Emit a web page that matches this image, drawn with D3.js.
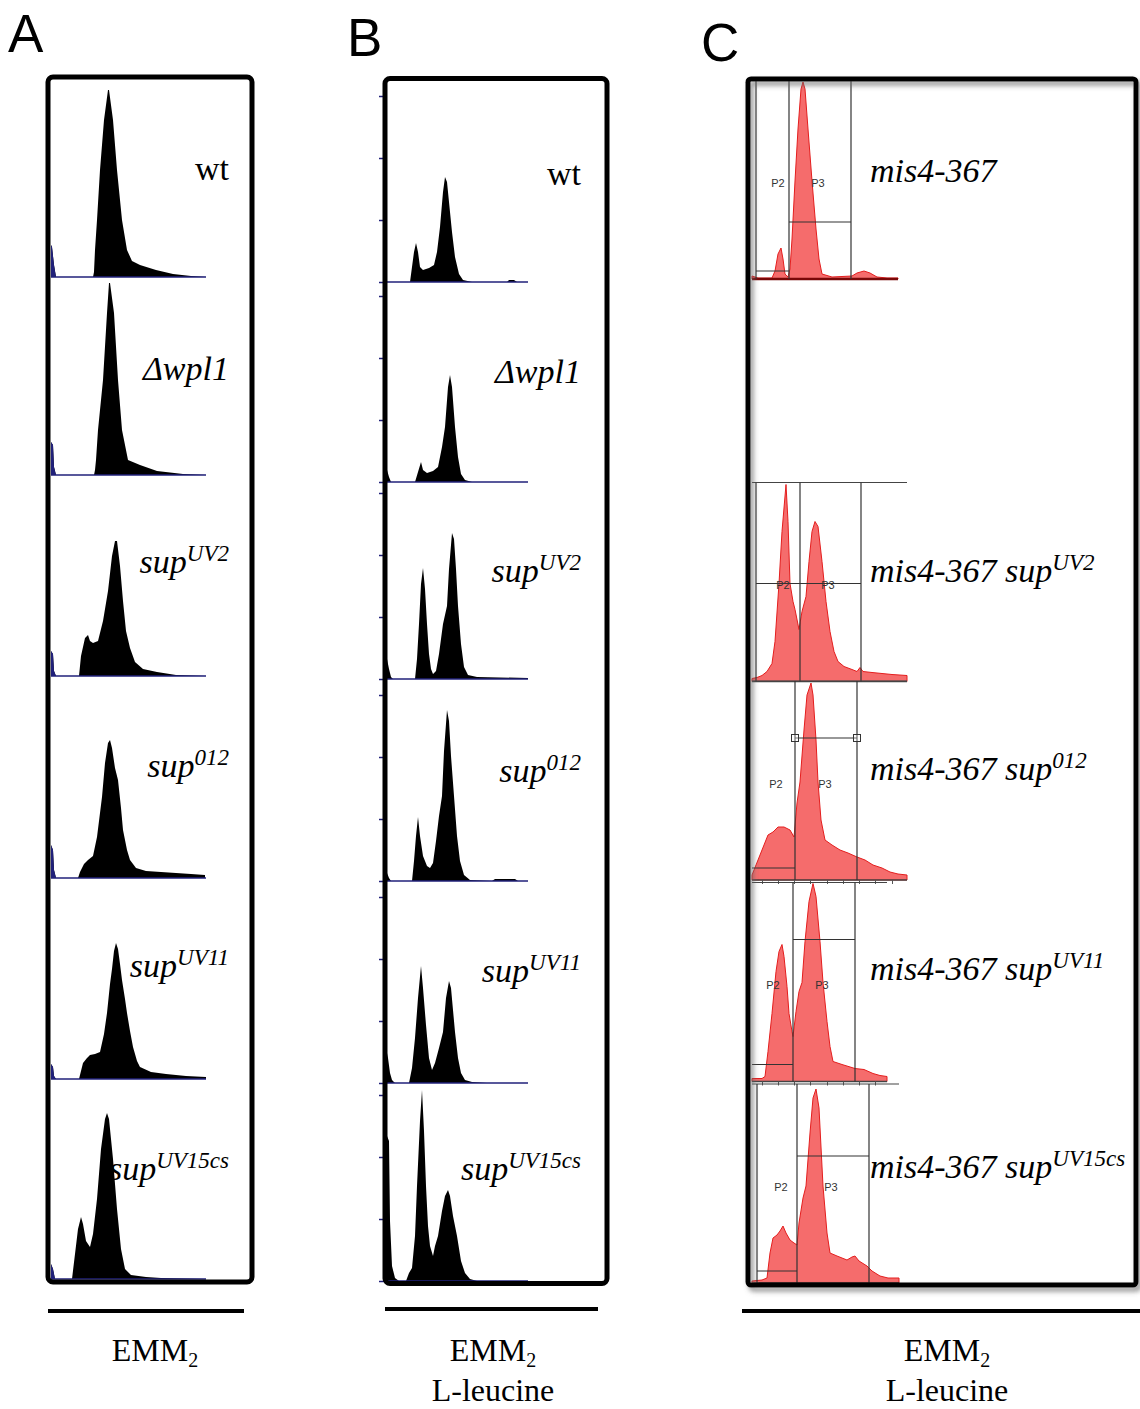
<!DOCTYPE html>
<html lang="en">
<head>
<meta charset="UTF-8">
<title>FACS profiles</title>
<script src="https://cdn.jsdelivr.net/npm/d3@7"></script>
<style>
  body { margin: 0; background: #fff; }
  svg { display: block; }
  .serif { font-family: "Liberation Serif", "Times New Roman", serif; fill: #000; }
  .letter { font-family: "Liberation Sans", Arial, sans-serif; font-size: 53px; fill: #000; }
  .gate-label { font-family: "Liberation Sans", Arial, sans-serif; font-size: 11px; fill: #333; }
</style>
</head>
<body>
<svg id="fig" width="1140" height="1409"></svg>
<script>
// ---- labels ----
const labelMainAB = ["wt", "Δwpl1", "sup", "sup", "sup", "sup"];
const labelSupAB  = ["", "", "UV2", "012", "UV11", "UV15cs"];
const labelItalicAB = [false, true, true, true, true, true];
const labelMainC = ["mis4-367", "mis4-367 sup", "mis4-367 sup", "mis4-367 sup", "mis4-367 sup"];
const labelSupC  = ["", "UV2", "012", "UV11", "UV15cs"];

// ---- panel A: EMM2 (channel, count) ----
const histA_wt   = [[0,32],[1,30],[3,12],[5,0],[42,0],[43,5],[44,27],[46,57],[49,107],[53,157],[57,187],[58,187],[62,157],[66,107],[71,57],[76,27],[81,16],[89,12],[105,7],[122,3],[140,1],[155,0]];
const histA_wpl1 = [[0,33],[2,30],[3,8],[5,0],[43,0],[44,5],[45,15],[47,45],[52,95],[56,162],[58,192],[59,192],[63,162],[67,95],[71,45],[77,15],[89,10],[106,4],[132,1],[155,0]];
const histA_uv2  = [[0,25],[2,22],[3,5],[5,0],[28,0],[30,20],[34,38],[37,41],[39,35],[42,33],[47,35],[52,55],[57,85],[61,120],[64,135],[66,135],[69,110],[72,75],[75,45],[79,28],[84,14],[92,7],[106,4],[125,1],[155,0]];
const histA_012  = [[0,33],[2,28],[3,8],[5,0],[27,0],[29,6],[33,14],[37,18],[42,22],[46,41],[51,81],[54,115],[57,135],[59,138],[61,130],[64,110],[67,98],[70,70],[72,48],[76,28],[79,18],[85,10],[95,7],[110,6],[125,5],[140,4],[154,3]];
const histA_uv11 = [[0,15],[2,12],[3,3],[5,0],[28,0],[30,8],[32,16],[36,21],[39,24],[44,25],[49,27],[53,45],[56,66],[59,95],[61,110],[63,128],[65,136],[67,130],[69,115],[71,99],[74,80],[76,66],[79,48],[82,32],[86,18],[89,12],[100,7],[115,5],[135,3],[155,2]];
const histA_uv15 = [[0,15],[2,10],[4,0],[21,0],[24,25],[27,50],[30,62],[32,55],[35,38],[39,32],[42,45],[46,80],[50,130],[54,160],[56,166],[58,160],[62,120],[66,70],[70,30],[74,10],[80,4],[95,2],[110,1],[155,0]];
const histA = [histA_wt, histA_wpl1, histA_uv2, histA_012, histA_uv11, histA_uv15];

// ---- panel B: EMM2 + L-leucine ----
const histB_wt   = [[0,0],[23,0],[25,15],[27,30],[29,39],[31,30],[33,15],[36,12],[42,14],[47,17],[50,30],[53,55],[56,90],[58,105],[60,100],[62,80],[65,50],[68,25],[72,8],[76,2],[85,0],[120,0],[122,2],[127,2],[130,0],[141,0]];
const histB_wpl1 = [[0,12],[2,5],[4,0],[28,0],[31,10],[34,20],[36,12],[40,9],[46,11],[51,15],[55,35],[58,55],[61,95],[63,107],[65,95],[68,55],[71,25],[74,8],[78,2],[85,0],[141,0]];
const histB_uv2  = [[0,20],[2,10],[4,2],[6,0],[28,0],[30,20],[32,55],[34,95],[36,111],[38,90],[40,55],[42,25],[44,10],[46,5],[49,8],[52,25],[56,55],[60,73],[62,110],[65,146],[67,140],[69,110],[71,73],[74,35],[77,12],[81,4],[90,2],[141,1]];
const histB_012  = [[0,8],[2,3],[4,0],[25,0],[27,20],[29,45],[31,64],[33,45],[36,25],[40,15],[43,13],[46,18],[49,40],[52,65],[55,85],[57,130],[60,171],[62,160],[64,125],[67,85],[70,45],[73,20],[77,6],[83,1],[105,0],[108,2],[128,2],[131,0],[141,0]];
const histB_uv11 = [[0,30],[1,25],[3,10],[5,3],[8,0],[22,0],[25,15],[28,45],[31,85],[34,117],[36,95],[39,58],[42,25],[45,13],[48,20],[52,35],[56,51],[59,85],[62,102],[64,95],[68,51],[71,25],[74,10],[78,3],[85,1],[100,0],[141,0]];
const histB_uv15 = [[0,145],[2,140],[3,60],[5,15],[8,3],[12,0],[19,0],[22,8],[25,13],[28,45],[30,95],[33,160],[35,191],[37,150],[39,95],[41,55],[43,35],[46,25],[48,35],[51,45],[55,70],[58,85],[61,91],[63,85],[66,65],[70,45],[74,20],[78,8],[83,2],[90,0],[141,0]];
const histB = [histB_wt, histB_wpl1, histB_uv2, histB_012, histB_uv11, histB_uv15];

// ---- panel C: mis4-367 strains ----
const histC_1 = [[0,3],[3,2],[6,1],[20,1],[23,8],[26,25],[29,31],[31,20],[33,5],[36,2],[38,10],[40,40],[43,98],[46,150],[49,190],[51,197],[53,190],[56,150],[60,98],[64,50],[67,20],[70,5],[80,2],[100,3],[105,6],[112,8],[118,6],[125,2],[135,1],[146,1]];
const histC_2 = [[0,3],[5,4],[10,6],[15,10],[20,18],[23,40],[27,98],[30,150],[34,197],[36,160],[38,98],[41,80],[43,72],[47,52],[50,70],[54,85],[57,120],[60,150],[63,160],[66,155],[70,120],[74,80],[78,50],[82,30],[86,20],[92,15],[100,12],[105,10],[108,14],[111,10],[120,9],[130,8],[140,7],[155,6]];
const histC_3 = [[0,5],[4,15],[10,30],[16,45],[21,48],[26,53],[32,53],[38,50],[42,43],[45,77],[48,98],[52,150],[55,185],[59,197],[61,185],[64,140],[66,98],[69,60],[73,40],[80,35],[88,30],[96,27],[105,23],[113,20],[121,15],[130,12],[138,8],[146,6],[155,5]];
const histC_4 = [[0,3],[10,3],[13,5],[16,30],[20,68],[24,110],[27,130],[30,137],[32,125],[35,95],[37,68],[40,50],[41,45],[44,70],[47,90],[50,99],[53,140],[57,180],[61,198],[64,185],[68,140],[71,99],[75,60],[78,35],[81,20],[90,17],[103,13],[112,12],[121,8],[128,6],[135,5]];
const histC_5 = [[0,2],[10,3],[15,5],[18,30],[21,45],[25,48],[28,52],[31,57],[34,50],[38,43],[42,40],[45,38],[47,60],[51,85],[54,97],[58,150],[61,185],[64,194],[67,175],[71,97],[75,50],[78,30],[85,27],[90,25],[95,23],[100,26],[103,27],[107,22],[115,17],[120,12],[128,7],[136,5],[147,5]];
const histC = [histC_1, histC_2, histC_3, histC_4, histC_5];
const xMaxC = [146, 155, 155, 135, 147];

// gates (channel positions / gate count levels)
const gateLinesC = [[4, 37, 99], [4, 48, 109], [43, 105], [41, 103], [5, 45, 117]];
const gateBarsC = [
  [[4, 37, 8], [37, 99, 57]],
  [[4, 48, 98], [48, 109, 98]],
  [[0, 43, 12], [43, 105, 142]],
  [[0, 41, 17], [41, 103, 142]],
  [[5, 45, 12], [45, 117, 127]]
];
const gateHandlesC = [[], [], [[43, 142], [105, 142]], [], []];
const p2LabelX = [26, 31, 24, 21, 29];
const p3LabelX = [66, 76, 73, 70, 79];
const gateLabelY = 95;
const cTicks = [10, 26, 42, 58, 75, 91, 107, 123, 140];

// ---- layout ----
const aBase = [277, 475, 676, 878, 1079, 1279];
const aLabelY = [180, 380, 573, 777, 977, 1180];
const bBase = [282, 482, 679, 881, 1083, 1281];
const bLabelY = [185, 383, 582, 782, 982, 1180];
const cBase = [279, 681.5, 880, 1081.5, 1283];
const cLabelY = [182, 582, 780, 980, 1178];

const svg = d3.select("#fig");
const defs = svg.append("defs");
defs.append("filter").attr("id", "shadow").attr("x", "-5%").attr("y", "-5%").attr("width", "110%").attr("height", "110%")
  .append("feDropShadow").attr("dx", 3).attr("dy", 4).attr("stdDeviation", 2.5)
  .attr("flood-color", "#666").attr("flood-opacity", 0.7);

const navy = "#20207a";

function addLabel(g, x, y, main, sup, o) {
  const t = g.append("text").attr("class", "serif")
    .attr("x", x).attr("y", y)
    .attr("font-size", o.size)
    .attr("font-style", o.italic ? "italic" : "normal")
    .attr("text-anchor", o.anchor);
  t.append("tspan").text(main);
  if (sup) t.append("tspan").attr("font-size", o.supSize).attr("dy", -o.rise).text(sup);
}

function yFor(base) {
  return d3.scaleLinear().domain([0, 200]).range([base, base - 200]);
}

// ---- Panel A ----
const gA = svg.append("g");
const xA = d3.scaleLinear().domain([0, 155]).range([51, 206]);
histA.forEach((h, i) => {
  const y = yFor(aBase[i]);
  const area = d3.area().x(d => xA(d[0])).y0(y(0)).y1(d => y(d[1]));
  gA.append("path").datum(h).attr("d", area).attr("fill", "#000");
  gA.append("path").datum(h.filter(d => d[0] <= 5)).attr("d", area).attr("fill", navy);
  gA.append("line").attr("x1", xA(0)).attr("x2", xA(155)).attr("y1", y(0)).attr("y2", y(0))
    .attr("stroke", navy).attr("stroke-width", 1.5);
  addLabel(gA, 229, aLabelY[i], labelMainAB[i], labelSupAB[i],
    { size: 34, supSize: 23, rise: 12, italic: labelItalicAB[i], anchor: "end" });
});
gA.append("rect").attr("x", 48).attr("y", 77).attr("width", 204).attr("height", 1205)
  .attr("rx", 5).attr("fill", "none").attr("stroke", "#000").attr("stroke-width", 5);

// ---- Panel B ----
const gB = svg.append("g");
const xB = d3.scaleLinear().domain([0, 141]).range([387, 528]);
histB.forEach((h, i) => {
  const y = yFor(bBase[i]);
  const area = d3.area().x(d => xB(d[0])).y0(y(0)).y1(d => y(d[1]));
  gB.append("path").datum(h).attr("d", area).attr("fill", "#000");
  gB.append("line").attr("x1", xB(0)).attr("x2", xB(141)).attr("y1", y(0)).attr("y2", y(0))
    .attr("stroke", navy).attr("stroke-width", 1.5);
  gB.append("g").attr("transform", "translate(384,0)")
    .call(d3.axisLeft(y).tickValues([0, 62, 124, 186]).tickSize(5).tickFormat(""))
    .call(a => a.select(".domain").remove())
    .call(a => a.selectAll("line").attr("stroke", navy).attr("stroke-width", 1.5));
  addLabel(gB, 581, bLabelY[i], labelMainAB[i], labelSupAB[i],
    { size: 34, supSize: 23, rise: 12, italic: labelItalicAB[i], anchor: "end" });
});
gB.append("rect").attr("x", 385).attr("y", 78.5).attr("width", 222).attr("height", 1205)
  .attr("rx", 5).attr("fill", "none").attr("stroke", "#000").attr("stroke-width", 5);

// ---- Panel C ----
const gC = svg.append("g");
const xC = d3.scaleLinear().domain([0, 160]).range([752, 912]);
histC.forEach((h, i) => {
  const y = yFor(cBase[i]);
  const g = gC.append("g");
  const area = d3.area().x(d => xC(d[0])).y0(y(0)).y1(d => y(d[1]));
  g.append("path").datum(h).attr("d", area)
    .attr("fill", "#f56c6c").attr("stroke", "#e41e1e").attr("stroke-width", 1);
  // frame
  g.append("line").attr("x1", xC(0)).attr("x2", xC(xMaxC[i])).attr("y1", y(199)).attr("y2", y(199))
    .attr("stroke", "#444").attr("stroke-width", 1.2);
  g.append("line").attr("x1", xC(0)).attr("x2", xC(xMaxC[i])).attr("y1", y(0)).attr("y2", y(0))
    .attr("stroke", i === 0 ? "#7a0808" : "#444").attr("stroke-width", i === 0 ? 2.5 : 1.5);
  if (i === 2 || i === 3) {
    g.append("g").attr("transform", `translate(0,${y(0)})`)
      .call(d3.axisBottom(xC).tickValues(cTicks.filter(t => t < xMaxC[i])).tickSize(4).tickFormat(""))
      .call(a => a.select(".domain").remove())
      .call(a => a.selectAll("line").attr("stroke", "#555"));
  }
  // gates
  gateLinesC[i].forEach(v => {
    g.append("line").attr("x1", xC(v)).attr("x2", xC(v)).attr("y1", y(0)).attr("y2", y(199))
      .attr("stroke", "#333").attr("stroke-width", 1.2);
  });
  gateBarsC[i].forEach(b => {
    g.append("line").attr("x1", xC(b[0])).attr("x2", xC(b[1])).attr("y1", y(b[2])).attr("y2", y(b[2]))
      .attr("stroke", "#333").attr("stroke-width", 1.2);
  });
  gateHandlesC[i].forEach(p => {
    g.append("rect").attr("x", xC(p[0]) - 3.5).attr("y", y(p[1]) - 3.5).attr("width", 7).attr("height", 7)
      .attr("fill", "#fff").attr("fill-opacity", 0.3).attr("stroke", "#333").attr("stroke-width", 1);
  });
  g.append("text").attr("class", "gate-label").attr("x", xC(p2LabelX[i])).attr("y", y(gateLabelY))
    .attr("text-anchor", "middle").attr("dominant-baseline", "middle").text("P2");
  g.append("text").attr("class", "gate-label").attr("x", xC(p3LabelX[i])).attr("y", y(gateLabelY))
    .attr("text-anchor", "middle").attr("dominant-baseline", "middle").text("P3");
  addLabel(gC, 870, cLabelY[i], labelMainC[i], labelSupC[i],
    { size: 34, supSize: 23, rise: 12, italic: true, anchor: "start" });
});
gC.append("rect").attr("x", 748).attr("y", 79).attr("width", 388).attr("height", 1206)
  .attr("rx", 3).attr("fill", "none").attr("stroke", "#000").attr("stroke-width", 5)
  .attr("filter", "url(#shadow)");

// ---- panel letters ----
svg.append("text").attr("class", "letter").attr("x", 8).attr("y", 52).text("A");
svg.append("text").attr("class", "letter").attr("x", 347).attr("y", 56).text("B");
svg.append("text").attr("class", "letter").attr("x", 701).attr("y", 61).text("C");

// ---- media annotations ----
const media = [
  { x1: 48, x2: 244, ly: 1311, cx: 155, lines: ["EMM"] },
  { x1: 385, x2: 598, ly: 1309, cx: 493, lines: ["EMM", "L-leucine"] },
  { x1: 742, x2: 1140, ly: 1311, cx: 947, lines: ["EMM", "L-leucine"] }
];
media.forEach(m => {
  svg.append("line").attr("x1", m.x1).attr("x2", m.x2).attr("y1", m.ly).attr("y2", m.ly)
    .attr("stroke", "#000").attr("stroke-width", 4);
  const t = svg.append("text").attr("class", "serif").attr("x", m.cx).attr("y", 1361)
    .attr("font-size", 32).attr("text-anchor", "middle");
  t.append("tspan").text(m.lines[0]);
  t.append("tspan").attr("font-size", 20).attr("dy", 6).text("2");
  if (m.lines[1]) {
    svg.append("text").attr("class", "serif").attr("x", m.cx).attr("y", 1401)
      .attr("font-size", 32).attr("text-anchor", "middle").text(m.lines[1]);
  }
});
</script>
</body>
</html>
